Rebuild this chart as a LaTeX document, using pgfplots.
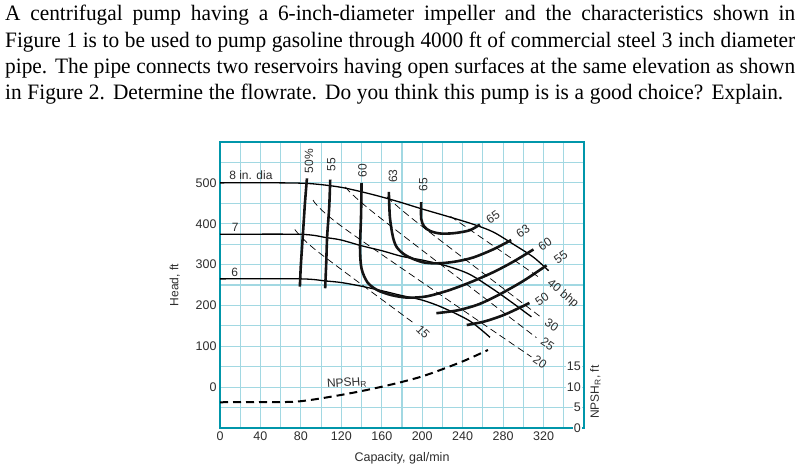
\documentclass[border=0pt]{standalone}
\usepackage{fontspec}
\setmainfont{Liberation Serif}
\setsansfont{Liberation Sans}
\newfontfamily\qfont[FakeStretch=0.97]{Liberation Serif}
\usepackage{pgfplots}
\pgfplotsset{compat=1.18}
\definecolor{gridc}{RGB}{162,216,226}
\definecolor{framec}{RGB}{0,150,170}
\definecolor{txt}{RGB}{45,45,45}
\newcommand{\lbf}{\fontsize{12.5bp}{14bp}\selectfont\sffamily}
\newcommand{\smf}{\fontsize{12bp}{13bp}\selectfont\sffamily}
\begin{document}
\begin{tikzpicture}
\path[use as bounding box] (0,0) rectangle (801bp,471bp);
\begin{scope}[every node/.style={anchor=base west, inner sep=0pt, font=\fontsize{22bp}{25bp}\selectfont\qfont}]
\node at (5bp,450.3bp) {\makebox[790bp][s]{A centrifugal pump having a 6-inch-diameter impeller and the characteristics shown in}};
\node at (5bp,423.6bp) {\makebox[790bp][s]{Figure 1 is to be used to pump gasoline through 4000 ft of commercial steel 3 inch diameter}};
\node at (5bp,397bp) {\makebox[790bp][s]{pipe. The pipe connects two reservoirs having open surfaces at the same elevation as shown}};
\node at (5bp,371bp) {\makebox[778bp][s]{in Figure 2. Determine the flowrate. Do you think this pump is is a good choice? Explain.}};
\end{scope}

\begin{axis}[
  at={(220bp,43bp)}, anchor=south west,
  scale only axis, width=364bp, height=286bp,
  xmin=0, xmax=360, ymin=-100, ymax=600,
  xtick={0,40,...,320}, ytick={0,100,...,500},
  minor xtick={20,60,...,340}, minor ytick={-50,50,...,550},
  grid=both,
  major grid style={gridc, line width=1.1bp},
  minor grid style={gridc, line width=1.1bp},
  axis line style={framec, line width=1.8bp},
  major tick length=0pt, minor tick length=0pt,
  tick label style={font=\lbf, text=txt},
  /pgf/number format/assume math mode=true,
  xlabel={Capacity, gal/min}, ylabel={Head, ft},
  xlabel style={font=\lbf, text=txt, at={(axis description cs:0.5,0)}, anchor=center, yshift=-30bp},
  ylabel style={font=\smf, text=txt, at={(axis description cs:-0.124,0.5)}, anchor=center},
  clip=false,
]
% impeller head curves
\addplot[black, line width=1.3bp, smooth, tension=0.5] coordinates {
 (0,500) (60,500) (90,498) (120,489) (150,472) (175,455) (200,436) (225,418) (250,399) (270,380) (290,350) (310,318) (325,285)};
\addplot[black, line width=1.3bp, smooth, tension=0.5] coordinates {
 (0,374) (80,374) (105,366) (120,360) (140,346) (160,334) (180,320) (200,311) (225,296) (247,276) (270,240) (290,205) (308,172)};
\addplot[black, line width=1.3bp, smooth, tension=0.5] coordinates {
 (0,265) (80,265) (104,260) (120,256) (140,247) (160,236) (180,224) (200,213) (220,195) (247,162) (267,122)};
% efficiency curves
\addplot[black!92, line width=2.6bp, smooth, tension=0.5] coordinates {(86,511) (84,450) (82,374) (80,300) (79,246)};
\addplot[black!92, line width=2.6bp, smooth, tension=0.5] coordinates {(109,508) (108,440) (106,370) (105,300) (104,242)};
\addplot[black!92, line width=2.6bp, smooth, tension=0.5] coordinates {
 (140,500) (139.5,420) (138.5,340) (140,290) (146,256) (156,237) (170,225) (186,219) (204,222) (225,236) (247,256) (270,281) (290,307) (310,337)};
\addplot[black!92, line width=2.6bp, smooth, tension=0.5] coordinates {
 (167,478) (168,417) (171,368) (175,342) (184,322) (200,306) (215,303) (232,307) (250,317) (270,337) (288,360)};
\addplot[black!92, line width=2.6bp, smooth, tension=0.5] coordinates {
 (199,453) (199,412) (202,393) (208,382) (218,376) (232,377) (247,384) (257,398)};
\addplot[black!92, line width=2.6bp, smooth, tension=0.5] coordinates {
 (214,181) (235,188) (255,202) (275,225) (300,260) (323,298)};
\addplot[black!92, line width=2.6bp, smooth, tension=0.5] coordinates {
 (244,152) (262,161) (282,178) (306,206)};
% bhp lines
\addplot[black, line width=0.7bp, dash pattern=on 7bp off 4bp, smooth] coordinates {(74,386) (96,333) (191,158)};
\addplot[black, line width=0.7bp, dash pattern=on 7bp off 4bp, smooth] coordinates {(92,458) (125,385) (308,74)};
\addplot[black, line width=0.7bp, dash pattern=on 7bp off 4bp, smooth] coordinates {(124,490) (155,421) (313,121)};
\addplot[black, line width=0.7bp, dash pattern=on 7bp off 4bp, smooth] coordinates {(165,466) (196,401) (316,174)};
\addplot[black, line width=0.7bp, dash pattern=on 7bp off 4bp, smooth] coordinates {(228,418) (316,268)};
% labels
\begin{scope}[every node/.style={font=\smf, text=txt, inner sep=0pt}]
\node[anchor=base west] at (axis cs:9,508) {8 in. dia};
\node[anchor=base west] at (axis cs:11.5,380) {7};
\node[anchor=base west] at (axis cs:11,270) {6};
\node[rotate=90] at (axis cs:88,553) {50\%};
\node[rotate=90] at (axis cs:110,544) {55};
\node[rotate=90] at (axis cs:141,530) {60};
\node[rotate=90] at (axis cs:171,516) {63};
\node[rotate=90] at (axis cs:201,495) {65};
\node[rotate=35] at (axis cs:270,416) {65};
\node[rotate=35] at (axis cs:299.7,382) {63};
\node[rotate=35] at (axis cs:321.5,350) {60};
\node[rotate=35] at (axis cs:337,318.5) {55};
\node[rotate=35] at (axis cs:318.5,215.7) {50};
\node[rotate=-40] at (axis cs:339,228) {40 bhp};
\node[rotate=-35] at (axis cs:328,152) {30};
\node[rotate=-35] at (axis cs:324,105.6) {25};
\node[rotate=-35] at (axis cs:316.5,61.5) {20};
\node[rotate=-45] at (axis cs:200.8,135) {15};
\node[rotate=4] at (axis cs:125.6,10) {NPSH\textsubscript{R}};
\end{scope}
\end{axis}

\begin{axis}[
  at={(220bp,43bp)}, anchor=south west,
  scale only axis, width=364bp, height=286bp,
  xmin=0, xmax=360, ymin=0, ymax=70,
  hide x axis,
  axis y line*=right,
  axis line style={framec, line width=1.8bp},
  ytick={0,5,10,15},
  major tick length=0pt,
  /pgf/number format/assume math mode=true,
  yticklabel style={font=\lbf, text=txt, anchor=east, fill=white, inner sep=1bp, xshift=-2bp},
  clip=false,
]
\addplot[black, line width=2bp, dash pattern=on 8bp off 5bp, smooth, tension=0.5] coordinates {
 (0,6.3) (40,6.35) (77.5,6.5) (120,8.1) (160,10.1) (199.5,12.6) (239,16.2) (265,19.1)};
\node[font=\smf, text=txt, rotate=90, anchor=north, inner sep=0pt] at ([xshift=6bp]rel axis cs:1,0.125) {NPSH\textsubscript{R}, ft};
\end{axis}
\end{tikzpicture}
\end{document}
